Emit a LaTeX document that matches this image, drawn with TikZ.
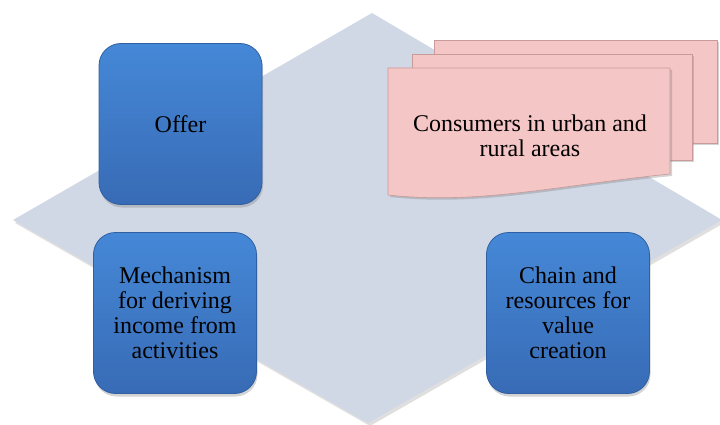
\documentclass[tikz,border=0pt]{standalone}
\usepackage{fontspec}
\setmainfont{Liberation Serif}
\usepackage{tikz}
\usetikzlibrary{shadows}
\definecolor{PlaneFill}{HTML}{D0D7E5}
\definecolor{BoxTop}{HTML}{4588D7}
\definecolor{BoxBottom}{HTML}{386BB5}
\definecolor{BoxEdge}{HTML}{3060A2}
\definecolor{PinkFill}{HTML}{F5C6C6}
\definecolor{PinkEdge}{HTML}{C99A9A}

\begin{document}
\begin{tikzpicture}[x=1pt,y=-1pt]
  \tikzset{BoxStyle/.style = {
    shape           = rectangle,
    rounded corners = 22pt,
    draw            = BoxEdge,
    top color       = BoxTop,
    bottom color    = BoxBottom,
    line width      = 0.8pt,
    text            = black,
    align           = center,
    font            = \fontsize{24}{25}\selectfont,
    minimum width   = 163pt,
    minimum height  = 161pt,
    inner sep       = 2pt,
    drop shadow     = {shadow xshift=1pt, shadow yshift=-3pt, opacity=0.35}
    }
  }
  \tikzset{PageStyle/.style = {
    draw            = PinkEdge,
    fill            = PinkFill,
    line width      = 0.6pt,
    drop shadow     = {shadow xshift=2pt, shadow yshift=-2pt, opacity=0.35}
    }
  }
  \tikzset{TextStyle/.style = {
    text            = black,
    align           = center,
    font            = \fontsize{24}{25}\selectfont,
    inner sep       = 0pt
    }
  }
  \useasboundingbox (0,0) rectangle (720,425);

  % background plane
  \fill[black!25, opacity=0.5] (15,223) -- (374,16) -- (724,223) -- (370,426) -- cycle;
  \fill[PlaneFill] (13,220) -- (372,13) -- (722,220) -- (368,423) -- cycle;

  % stacked pages
  \draw[PageStyle] (434,40) rectangle (717,143);
  \draw[PageStyle] (412,54) rectangle (692,160);
  \draw[PageStyle] (388,68) -- (670,68) -- (670,174)
    .. controls (560,185) and (480,205) .. (388,195) -- cycle;
  \node[TextStyle](B1) at (530,136) {Consumers in urban and\\rural areas};

  % boxes
  \node[BoxStyle](A1) at (180.5,124) {Offer};
  \node[BoxStyle](C1) at (175,313) {Mechanism\\for deriving\\income from\\activities};
  \node[BoxStyle](C2) at (568,313) {Chain and\\resources for\\value\\creation};

\end{tikzpicture}
\end{document}
